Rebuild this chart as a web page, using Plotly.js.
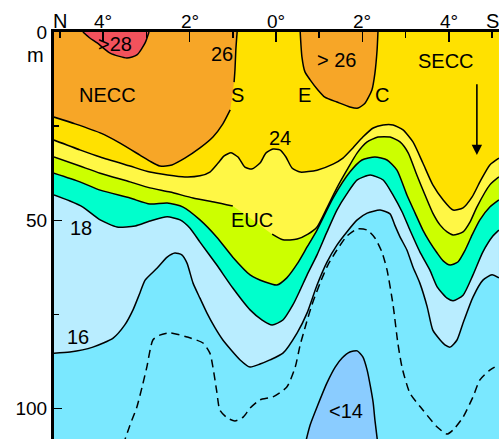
<!DOCTYPE html>
<html><head><meta charset="utf-8">
<script src="https://cdn.plot.ly/plotly-3.0.1.min.js"></script>
<style>html,body{margin:0;padding:0;background:#fff;} #chart{width:499px;height:439px;}</style>
</head><body><div id="chart"></div>
<script>
// Latitude (deg N, negative = S) and depth (m) of each isotherm
const lat24 = [5.14, 4.54, 4.07, 3.38, 2.92, 2.11, 1.76, 1.53, 1.34, 1.20, 1.04, 0.88, 0.72, 0.56, 0.37, 0.23, 0.07, -0.09, -0.23, -0.37, -0.56, -0.95, -1.32, -1.55, -1.78, -2.01, -2.25, -2.48, -2.71, -2.94, -3.17, -3.40, -3.63, -3.87, -4.10, -4.33, -4.54, -4.72, -4.95, -5.16];
const dep24 = [28.7, 31.3, 33.2, 35.6, 37.2, 38.5, 38.2, 37.2, 34.8, 32.9, 32.1, 33.2, 35.9, 36.4, 34.8, 32.1, 31.1, 31.3, 33.2, 36.1, 37.2, 36.7, 35.1, 33.5, 30.8, 27.9, 25.5, 24.7, 24.7, 26.0, 29.2, 34.8, 40.6, 44.6, 47.3, 46.7, 43.8, 39.8, 35.3, 33.5];

const lat22 = [5.14, 4.54, 4.07, 3.38, 2.92, 2.45, 1.92, 1.41, 1.00, 0.60, 0.32, 0.09, -0.16, -0.49, -0.74, -0.95, -1.18, -1.41, -1.64, -1.88, -2.11, -2.36, -2.64, -2.87, -3.06, -3.26, -3.45, -3.63, -3.80, -3.96, -4.10, -4.33, -4.49, -4.65, -4.95, -5.16];
const dep22 = [33.2, 35.6, 37.5, 39.8, 41.4, 42.5, 44.1, 45.2, 46.2, 49.4, 51.8, 53.7, 55.2, 55.0, 53.7, 51.8, 46.7, 41.4, 36.7, 32.1, 29.2, 27.9, 27.9, 29.2, 32.1, 38.0, 43.3, 48.1, 51.3, 53.1, 53.9, 53.1, 50.5, 46.5, 40.6, 38.5];

const lat20 = [5.14, 4.54, 4.07, 3.38, 2.92, 2.52, 2.15, 1.76, 1.37, 1.00, 0.60, 0.25, -0.02, -0.25, -0.49, -0.72, -0.95, -1.32, -1.71, -1.99, -2.29, -2.57, -2.80, -3.03, -3.22, -3.40, -3.56, -3.73, -3.87, -4.03, -4.21, -4.38, -4.54, -4.72, -4.95, -5.16];
const dep20 = [37.5, 39.8, 42.0, 44.1, 45.7, 45.4, 46.5, 49.9, 54.5, 59.8, 64.5, 66.4, 67.2, 65.3, 61.6, 57.1, 52.6, 44.1, 37.2, 34.0, 33.2, 34.0, 36.7, 43.3, 48.1, 52.6, 55.8, 58.7, 60.8, 61.9, 61.1, 57.9, 53.9, 49.9, 46.5, 44.6];

const lat18 = [5.14, 4.77, 4.47, 4.07, 3.68, 3.26, 2.92, 2.52, 2.22, 1.99, 1.76, 1.37, 1.00, 0.60, 0.32, 0.09, -0.16, -0.39, -0.56, -0.72, -0.95, -1.18, -1.41, -1.64, -1.88, -2.18, -2.48, -2.71, -2.92, -3.10, -3.33, -3.56, -3.73, -3.96, -4.10, -4.33, -4.56, -4.79, -5.02, -5.16];
const dep18 = [43.3, 44.9, 46.5, 49.9, 51.8, 51.5, 50.2, 49.1, 49.9, 52.1, 55.8, 61.9, 68.0, 73.8, 76.5, 77.8, 76.5, 72.5, 68.5, 64.5, 59.2, 53.1, 47.3, 43.0, 39.3, 38.0, 39.3, 43.3, 47.8, 52.6, 58.4, 63.2, 67.7, 70.7, 71.4, 69.9, 64.5, 58.4, 54.2, 52.6];

const lat16 = [5.14, 4.77, 4.24, 3.77, 3.50, 3.31, 3.15, 3.03, 2.75, 2.52, 2.34, 2.18, 2.06, 1.92, 1.76, 1.60, 1.41, 1.23, 0.83, 0.60, 0.37, 0.14, -0.16, -0.49, -0.72, -0.95, -1.18, -1.41, -1.64, -1.88, -2.11, -2.41, -2.64, -2.75, -2.87, -3.03, -3.17, -3.33, -3.50, -3.63, -3.80, -3.91, -4.03, -4.19, -4.33, -4.56, -4.79, -5.00, -5.16];
const dep16 = [85.3, 85.0, 83.7, 81.3, 77.8, 73.8, 69.3, 65.9, 62.7, 59.8, 58.7, 59.2, 61.4, 66.7, 70.7, 74.6, 78.6, 81.8, 87.1, 89.0, 88.2, 87.1, 85.3, 79.9, 74.6, 67.2, 61.1, 56.6, 53.1, 49.9, 48.1, 47.3, 48.3, 51.3, 54.4, 57.9, 62.4, 66.7, 73.0, 79.2, 81.8, 83.1, 83.7, 81.8, 77.3, 70.4, 65.9, 64.5, 65.3];

// 15 degree isotherm (dashed)
const lat15 = [3.54, 3.38, 3.22, 3.10, 2.99, 2.85, 2.69, 2.45, 2.06, 1.69, 1.53, 1.46, 1.37, 1.30, 1.13, 0.95, 0.76, 0.60, 0.37, 0.07, -0.25, -0.44, -0.56, -0.69, -0.83, -1.02, -1.20, -1.41, -1.64, -1.88, -2.11, -2.29, -2.45, -2.57, -2.71, -2.82, -2.92, -3.10, -3.40, -3.73, -3.96, -4.10, -4.33, -4.56, -4.72, -4.95, -5.16];
const dep15 = [109.7, 104.4, 99.6, 94.3, 89.0, 81.8, 80.5, 79.9, 81.0, 82.6, 85.3, 89.0, 95.6, 100.4, 102.5, 103.3, 102.3, 99.9, 97.7, 96.9, 94.3, 89.2, 83.1, 77.8, 72.5, 66.7, 61.9, 57.9, 54.2, 52.3, 52.6, 54.7, 58.4, 63.2, 72.5, 82.6, 89.2, 95.9, 100.4, 104.9, 106.8, 105.7, 102.3, 96.9, 92.4, 89.8, 88.4];

// Closed warm / cold cores
const lat26N = [5.14, 4.65, 4.07, 3.61, 3.15, 2.92, 2.69, 2.41, 2.11, 1.76, 1.46, 1.23, 1.06, 1.02, 0.97, 0.95, 0.93, 0.90];
const dep26N = [22.6, 24.4, 26.8, 29.5, 32.7, 34.3, 35.6, 35.3, 33.5, 30.8, 27.9, 24.4, 20.7, 17.3, 13.3, 10.1, 4.8, 0];
const lat26S = [-0.56, -0.60, -0.67, -0.79, -0.97, -1.13, -1.41, -1.71, -1.90, -2.06, -2.22, -2.29, -2.34, -2.36];
const dep26S = [0, 6.6, 10.6, 12.7, 15.4, 17.3, 18.6, 19.9, 20.2, 18.9, 15.4, 10.9, 4.8, 0];
const lat28 = [4.47, 4.31, 4.14, 3.84, 3.45, 3.22, 3.03, 2.94];
const dep28 = [0, 1.6, 2.9, 5.6, 6.9, 6.1, 2.9, 0];
const lat14 = [-0.67, -0.79, -0.95, -1.18, -1.37, -1.53, -1.71, -1.88, -2.01, -2.11, -2.18, -2.25, -2.29, -2.36];
const dep14 = [109.7, 104.4, 99.6, 93.2, 89.0, 86.6, 85.0, 84.7, 86.3, 89.8, 93.8, 98.5, 103.1, 109.7];

// Axis ticks
const xTickVals = [5, 4, 2, 0, -2, -4, -5];
const xTickText = ['N', '4°', '2°', '0°', '2°', '4°', 'S'];
const xMajorVals = [4, 2, 0, -2, -4];
const xMinorVals = [5, 3, 1, -1, -3, -5];
const yTickVals = [0, 50, 100];
const yTickText = ['0', '50', '100'];
const yMinorVals = [25, 75];

// Colours
const C = {
  t28: '#F2525C', t26: '#F7A627', t24: '#FFE100', t22: '#FFF745',
  t20: '#CCFF00', t18: '#00FFCC', t16: '#B9EDFF', t14: '#7AE8FF', lt14: '#8ACCFF'
};
const FONT = 'Liberation Sans, Arial, Helvetica, sans-serif';

function fillAbove(lat, dep, color) {
  const x = lat.concat([lat[lat.length - 1], lat[0]]);
  const y = dep.concat([-5, -5]);
  return {x, y, type: 'scatter', mode: 'lines', fill: 'toself', fillcolor: color,
          line: {width: 0, color: color}, hoverinfo: 'skip', showlegend: false};
}
function fillClosed(lat, dep, color) {
  return {x: lat, y: dep, type: 'scatter', mode: 'lines', fill: 'toself', fillcolor: color,
          line: {width: 0, color: color}, hoverinfo: 'skip', showlegend: false};
}
function contourLine(lat, dep, gaps, dash) {
  const y = dep.map((d, i) => {
    for (const g of (gaps || [])) {
      if (lat[i] <= g[0] && lat[i] >= g[1] && d >= g[2] && d <= g[3]) return null;
    }
    return d;
  });
  return {x: lat, y, type: 'scatter', mode: 'lines', connectgaps: false,
          line: {color: '#000', width: 1.5, dash: dash || 'solid', shape: 'spline', smoothing: 0.6},
          hoverinfo: 'skip', showlegend: false};
}

const traces = [
  fillAbove(lat16, dep16, C.t16),
  fillAbove(lat18, dep18, C.t18),
  fillAbove(lat20, dep20, C.t20),
  fillAbove(lat22, dep22, C.t22),
  fillAbove(lat24, dep24, C.t24),
  fillAbove(lat26N, dep26N, C.t26),
  fillClosed(lat26S, dep26S, C.t26),
  fillClosed(lat28, dep28, C.t28),
  fillClosed(lat14, dep14, C.lt14),
  contourLine(lat16, dep16),
  contourLine(lat18, dep18),
  contourLine(lat20, dep20),
  contourLine(lat22, dep22, [[0.95, 0.19, 0, 200]]),
  contourLine(lat24, dep24),
  contourLine(lat26N, dep26N, [[1.5, 0.5, 14, 20.2]]),
  contourLine(lat26S, dep26S),
  contourLine(lat28, dep28),
  contourLine(lat14, dep14),
  contourLine(lat15, dep15, null, '8px,5px')
];

function label(text, x, y, size) {
  return {text, x, y, xref: 'x', yref: 'y', showarrow: false,
          font: {family: FONT, size: size || 20, color: '#000'}, xanchor: 'center', yanchor: 'middle'};
}

const annotations = [
  label('NECC', 3.91, 16.7),
  label('&gt;28', 3.73, 3.2),
  label('26', 1.25, 5.8),
  label('S', 0.90, 16.7),
  label('E', -0.65, 16.7),
  label('&gt; 26', -1.41, 7.4),
  label('C', -2.45, 16.7),
  label('SECC', -3.94, 7.7),
  label('24', -0.09, 28.2),
  label('EUC', 0.56, 49.9),
  label('18', 4.51, 52.1),
  label('16', 4.58, 81.0),
  label('&lt;14', -1.62, 100.7),
  {text: 'm', x: 0, y: 6.1, xref: 'paper', yref: 'y', xanchor: 'right', yanchor: 'middle',
   showarrow: false, xshift: -8, font: {family: FONT, size: 20, color: '#000'}},
  {text: '', x: -4.65, y: 32.7, ax: -4.65, ay: 13.5, xref: 'x', yref: 'y', axref: 'x', ayref: 'y',
   showarrow: true, arrowhead: 2, arrowsize: 1.3, arrowwidth: 1.6, arrowcolor: '#000'}
];
// top tick labels (N, degrees, S) as annotations for exact placement
xTickVals.forEach((v, i) => {
  annotations.push({text: xTickText[i], x: v, y: 1, xref: 'x', yref: 'paper', yanchor: 'bottom',
    showarrow: false, yshift: -2, font: {family: FONT, size: i === 0 || i === 6 ? 20 : 19, color: '#000'}});
});

const layout = {
  width: 499, height: 439,
  margin: {l: 54, r: 0, t: 32, b: 0, pad: 0},
  paper_bgcolor: '#fff', plot_bgcolor: C.t14,
  showlegend: false,
  font: {family: FONT, size: 19, color: '#000'},
  xaxis: {
    range: [5.139, -5.162], side: 'top', showgrid: false, zeroline: false,
    tickmode: 'array', tickvals: xMajorVals, showticklabels: false,
    ticks: 'inside', ticklen: 10, tickwidth: 1.5, tickcolor: '#000',
    showline: true, linewidth: 3, linecolor: '#000',
    minor: {tickmode: 'array', tickvals: xMinorVals, ticks: 'inside', ticklen: 6, tickwidth: 1.5, tickcolor: '#000', showgrid: false}
  },
  yaxis: {
    range: [108.1, 0], showgrid: false, zeroline: false,
    tickmode: 'array', tickvals: yTickVals, ticktext: yTickText,
    ticks: 'inside', ticklen: 8, tickwidth: 1.5, tickcolor: '#000',
    showline: true, linewidth: 3, linecolor: '#000',
    tickfont: {family: FONT, size: 19, color: '#000'},
    minor: {tickmode: 'array', tickvals: yMinorVals, ticks: 'inside', ticklen: 5, tickwidth: 1.5, tickcolor: '#000', showgrid: false}
  },
  annotations
};

Plotly.newPlot('chart', traces, layout, {staticPlot: true, displayModeBar: false});
</script>
</body></html>
